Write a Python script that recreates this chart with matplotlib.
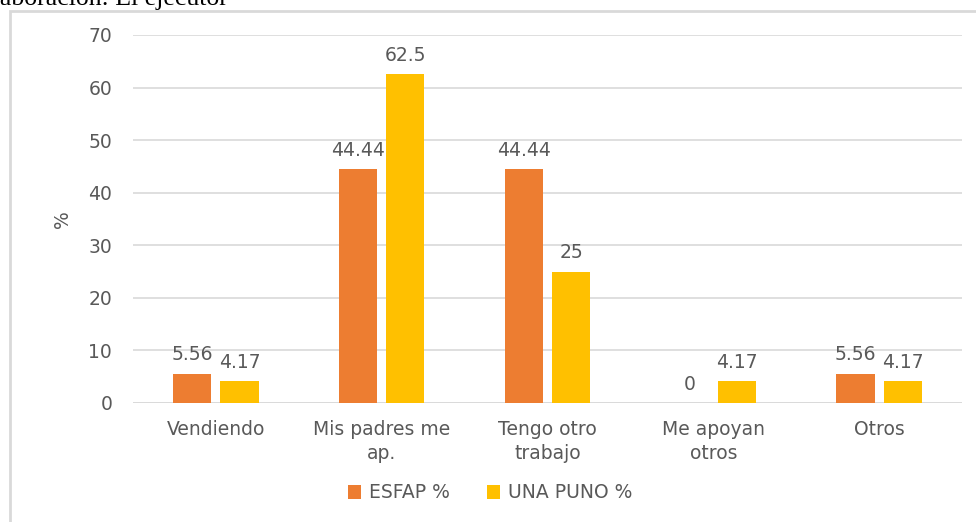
import matplotlib.pyplot as plt
import numpy as np
from matplotlib.patches import Rectangle

categorias = ["Vendiendo", "Mis padres me\nap.", "Tengo otro\ntrabajo", "Me apoyan\notros", "Otros"]
esfap = [5.56, 44.44, 44.44, 0, 5.56]
una_puno = [4.17, 62.5, 25, 4.17, 4.17]
series = ["ESFAP %", "UNA PUNO %"]
colores = ["#ED7D31", "#FFC000"]
gris = "#595959"

plt.rcParams['font.family'] = ['DejaVu Sans']
fs = 13.5

fig = plt.figure(figsize=(9.76, 5.22), dpi=100)
ax = fig.add_axes([133/976, 1 - 403/522, 829/976, 368/522])

x = np.arange(len(categorias))
ancho = 0.23
desp = 0.285
for i, (vals, nombre) in enumerate(zip([esfap, una_puno], series)):
    pos = x + (i - 0.5) * desp
    barras = ax.bar(pos, vals, ancho, color=colores[i], label=nombre, zorder=3)
    for b, v in zip(barras, vals):
        ax.text(b.get_x() + b.get_width() / 2, v + 1.8, f"{v:g}", ha="center", va="bottom",
                fontsize=fs, color=gris)

ax.set_xlim(-0.5, len(categorias) - 0.5)
ax.set_ylim(0, 70)
ax.set_yticks(range(0, 71, 10))
ax.yaxis.grid(True, color="#D9D9D9", linewidth=1.2, zorder=0)
ax.set_axisbelow(True)
for s in ax.spines.values():
    s.set_visible(False)
ax.axhline(0, color="#D9D9D9", linewidth=1.2, zorder=2)
ax.tick_params(axis="both", length=0, colors=gris, labelsize=fs)
ax.tick_params(axis="y", pad=15)
ax.tick_params(axis="x", pad=12)
ax.set_xticks(x)
ax.set_xticklabels(categorias, linespacing=1.35)
ax.set_ylabel("%", color=gris, fontsize=fs, labelpad=12)

fig.legend(loc="center", bbox_to_anchor=(490/976, 1 - 493/522), ncol=2, frameon=False,
           fontsize=fs, labelcolor=gris, handlelength=0.7, handleheight=0.7,
           columnspacing=2.0, handletextpad=0.4)

# marco del gráfico
fig.patches.append(Rectangle((10/976, -0.05), 1.0, 1 - 11/522 + 0.05, transform=fig.transFigure,
                             fill=False, edgecolor="#D9D9D9", linewidth=2))

# texto de fuente recortado arriba
fig.text(228/976, 1 - 5/522, "Elaboración: El ejecutor", ha="right", va="baseline",
         fontsize=18.5, family="Liberation Serif", color="black")

fig.savefig("out.png", dpi=100)
